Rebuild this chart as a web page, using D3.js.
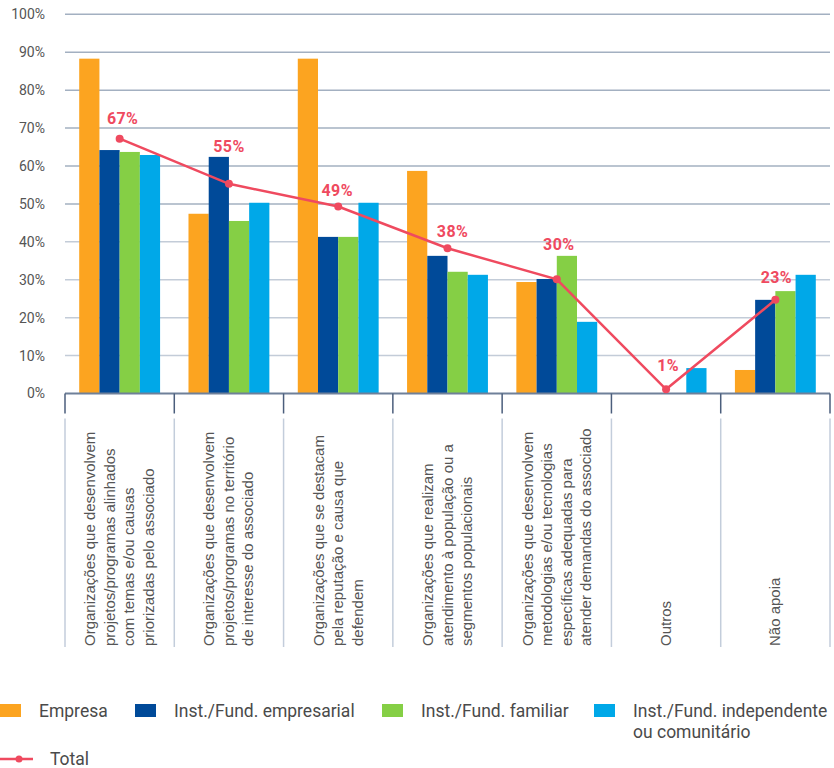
<!DOCTYPE html>
<html>
<head>
<meta charset="utf-8">
<title></title>
<script src="https://d3js.org/d3.v7.min.js"></script>
<style>
  body { margin: 0; background: #fff; }
  svg { display: block; }
</style>
</head>
<body>
<div id="chart"></div>
<script>
// data.....................................
var categories = [
  ["Organizações que desenvolvem", "projetos/programas alinhados", "com temas e/ou causas", "priorizadas pelo associado"],
  ["Organizações que desenvolvem", "projetos/programas no território", "de interesse do associado"],
  ["Organizações que se destacam", "pela reputação e causa que", "defendem"],
  ["Organizações que realizam", "atendimento à população ou a", "segmentos populacionais"],
  ["Organizações que desenvolvem", "metodologias e/ou tecnologias", "específicas adequadas para", "atender demandas do associado"],
  ["Outros"],
  ["Não apoia"]
];
var seriesNames = ["Empresa", "Inst./Fund. empresarial", "Inst./Fund. familiar", "Inst./Fund. independente"];
var empresa      = [88.3, 47.4, 88.3, 58.7, 29.4, 0, 6.2];
var empresarial  = [64.2, 62.4, 41.3, 36.3, 30.2, 0, 24.7];
var familiar     = [63.7, 45.5, 41.3, 32.1, 36.3, 0, 27.0];
var independente = [62.9, 50.3, 50.3, 31.3, 18.9, 6.7, 31.3];
var total        = [67.2, 55.3, 49.3, 38.3, 30.1, 1.1, 24.7];
var totalLabels  = ["67%", "55%", "49%", "38%", "30%", "1%", "23%"];
var yTicks = [0, 10, 20, 30, 40, 50, 60, 70, 80, 90, 100];

// layout / style.............................
var colors = ["#fca420", "#004a99", "#85cf45", "#00a8e8"];
var red = "#ef4a5f";
var labelLift = [15, 32, 11, 11, 29, 18, 17];
var labelShift = [3, 0, -1, 5, 2, 2, 1];

var W = 834, H = 768;
var plotLeft = 65, plotRight = 830, plotTop = 14.3, base = 393.5;

var svg = d3.select('#chart').append('svg')
  .attr('width', W)
  .attr('height', H);

var idx = d3.range(categories.length);

var x0 = d3.scaleBand()
  .domain(idx)
  .range([plotLeft, plotRight]);

var x1 = d3.scaleBand()
  .domain(d3.range(seriesNames.length))
  .range([x0.bandwidth() * 0.13, x0.bandwidth() * 0.87]);

var y = d3.scaleLinear()
  .domain([0, 100])
  .range([base, plotTop]);

// grid + y axis.............................
var yAxis = d3.axisLeft(y)
  .tickValues(yTicks)
  .tickFormat(function(d) { return d + '%'; })
  .tickSize(0)
  .tickPadding(20);

var yGuide = svg.append('g')
  .attr('transform', 'translate(' + plotLeft + ',0)')
  .call(yAxis);
yGuide.select('.domain').remove();
yGuide.selectAll('text')
  .style('font-family', 'Roboto, sans-serif')
  .style('font-size', '14px')
  .style('fill', '#555');

svg.append('g').selectAll('line')
  .data(yTicks.filter(function(d) { return d > 0; }))
  .enter().append('line')
  .attr('x1', plotLeft).attr('x2', plotRight)
  .attr('y1', function(d) { return y(d); })
  .attr('y2', function(d) { return y(d); })
  .style('stroke', function(d) { return d >= 50 ? '#a3b0c1' : '#c3ccd8'; })
  .style('stroke-width', 1.5);

// bars.....................................
var series = [empresa, empresarial, familiar, independente];

var groups = svg.append('g').selectAll('g')
  .data(idx)
  .enter().append('g')
  .attr('transform', function(i) { return 'translate(' + x0(i) + ',0)'; });

groups.selectAll('rect')
  .data(function(i) { return series.map(function(s, k) { return { k: k, v: s[i] }; }).filter(function(d) { return d.v > 0; }); })
  .enter().append('rect')
  .attr('x', function(d) { return x1(d.k); })
  .attr('width', x1.bandwidth())
  .attr('y', function(d) { return y(d.v); })
  .attr('height', function(d) { return base - y(d.v); })
  .style('fill', function(d) { return colors[d.k]; });

// x axis....................................
svg.append('line')
  .attr('x1', plotLeft).attr('x2', plotRight)
  .attr('y1', base).attr('y2', base)
  .style('stroke', '#6f8099')
  .style('stroke-width', 2);

var bounds = d3.range(categories.length + 1).map(function(i) {
  return i < categories.length ? x0(i) : plotRight;
});

svg.append('g').selectAll('line')
  .data(bounds)
  .enter().append('line')
  .attr('x1', function(d) { return d; })
  .attr('x2', function(d) { return d; })
  .attr('y1', base).attr('y2', base + 20)
  .style('stroke', '#4b5e7c')
  .style('stroke-width', 1.5);

svg.append('g').selectAll('line')
  .data(bounds)
  .enter().append('line')
  .attr('x1', function(d) { return d; })
  .attr('x2', function(d) { return d; })
  .attr('y1', base + 25).attr('y2', 647)
  .style('stroke', '#c3cddb')
  .style('stroke-width', 1.5);

// category labels (rotated)
var lineH = 19.5;
var catText = svg.append('g').selectAll('text')
  .data(idx)
  .enter().append('text')
  .attr('transform', function(i) {
    return 'translate(' + (x0(i) + x0.bandwidth() / 2) + ',646) rotate(-90)';
  })
  .style('font-family', '"Liberation Sans", Arial, sans-serif')
  .style('font-size', '15px')
  .style('fill', '#555');

catText.selectAll('tspan')
  .data(function(i) {
    var n = categories[i].length;
    return categories[i].map(function(t, j) { return { t: t, off: (j - (n - 1) / 2) * lineH + 5 }; });
  })
  .enter().append('tspan')
  .attr('x', 0)
  .attr('y', function(d) { return d.off; })
  .text(function(d) { return d.t; });

// total line................................
var cx = function(i) { return x0(i) + x0.bandwidth() / 2; };

var line = d3.line()
  .x(function(d, i) { return cx(i); })
  .y(function(d) { return y(d); });

svg.append('path')
  .datum(total)
  .attr('d', line)
  .style('fill', 'none')
  .style('stroke', red)
  .style('stroke-width', 2.5);

svg.append('g').selectAll('circle')
  .data(total)
  .enter().append('circle')
  .attr('cx', function(d, i) { return cx(i); })
  .attr('cy', function(d) { return y(d); })
  .attr('r', 4)
  .style('fill', red);

svg.append('g').selectAll('text')
  .data(total)
  .enter().append('text')
  .attr('x', function(d, i) { return cx(i) + labelShift[i]; })
  .attr('y', function(d, i) { return y(d) - labelLift[i]; })
  .attr('text-anchor', 'middle')
  .style('font-family', 'Roboto, sans-serif')
  .style('font-weight', 'bold')
  .style('font-size', '16px')
  .style('letter-spacing', '0.4px')
  .style('fill', red)
  .text(function(d, i) { return totalLabels[i]; });

// legend....................................
var legendX = [0, 135, 382, 594];
var legend = svg.append('g')
  .style('font-family', 'Roboto, sans-serif')
  .style('font-size', '17.5px')
  .style('fill', '#4a4a4a');

legend.selectAll('rect')
  .data(seriesNames)
  .enter().append('rect')
  .attr('x', function(d, i) { return legendX[i]; })
  .attr('y', 704)
  .attr('width', 21)
  .attr('height', 13)
  .style('fill', function(d, i) { return colors[i]; });

legend.selectAll('text.name')
  .data(seriesNames)
  .enter().append('text')
  .attr('class', 'name')
  .attr('x', function(d, i) { return legendX[i] + 39; })
  .attr('y', 717)
  .text(function(d) { return d; });

legend.append('text')
  .attr('x', legendX[3] + 39)
  .attr('y', 738)
  .text('ou comunitário');

legend.append('line')
  .attr('x1', 0).attr('x2', 33)
  .attr('y1', 759).attr('y2', 759)
  .style('stroke', red)
  .style('stroke-width', 2.5);
legend.append('circle')
  .attr('cx', 19).attr('cy', 759).attr('r', 3.5)
  .style('fill', red);
legend.append('text')
  .attr('x', 50).attr('y', 765)
  .text('Total');
</script>
</body>
</html>
